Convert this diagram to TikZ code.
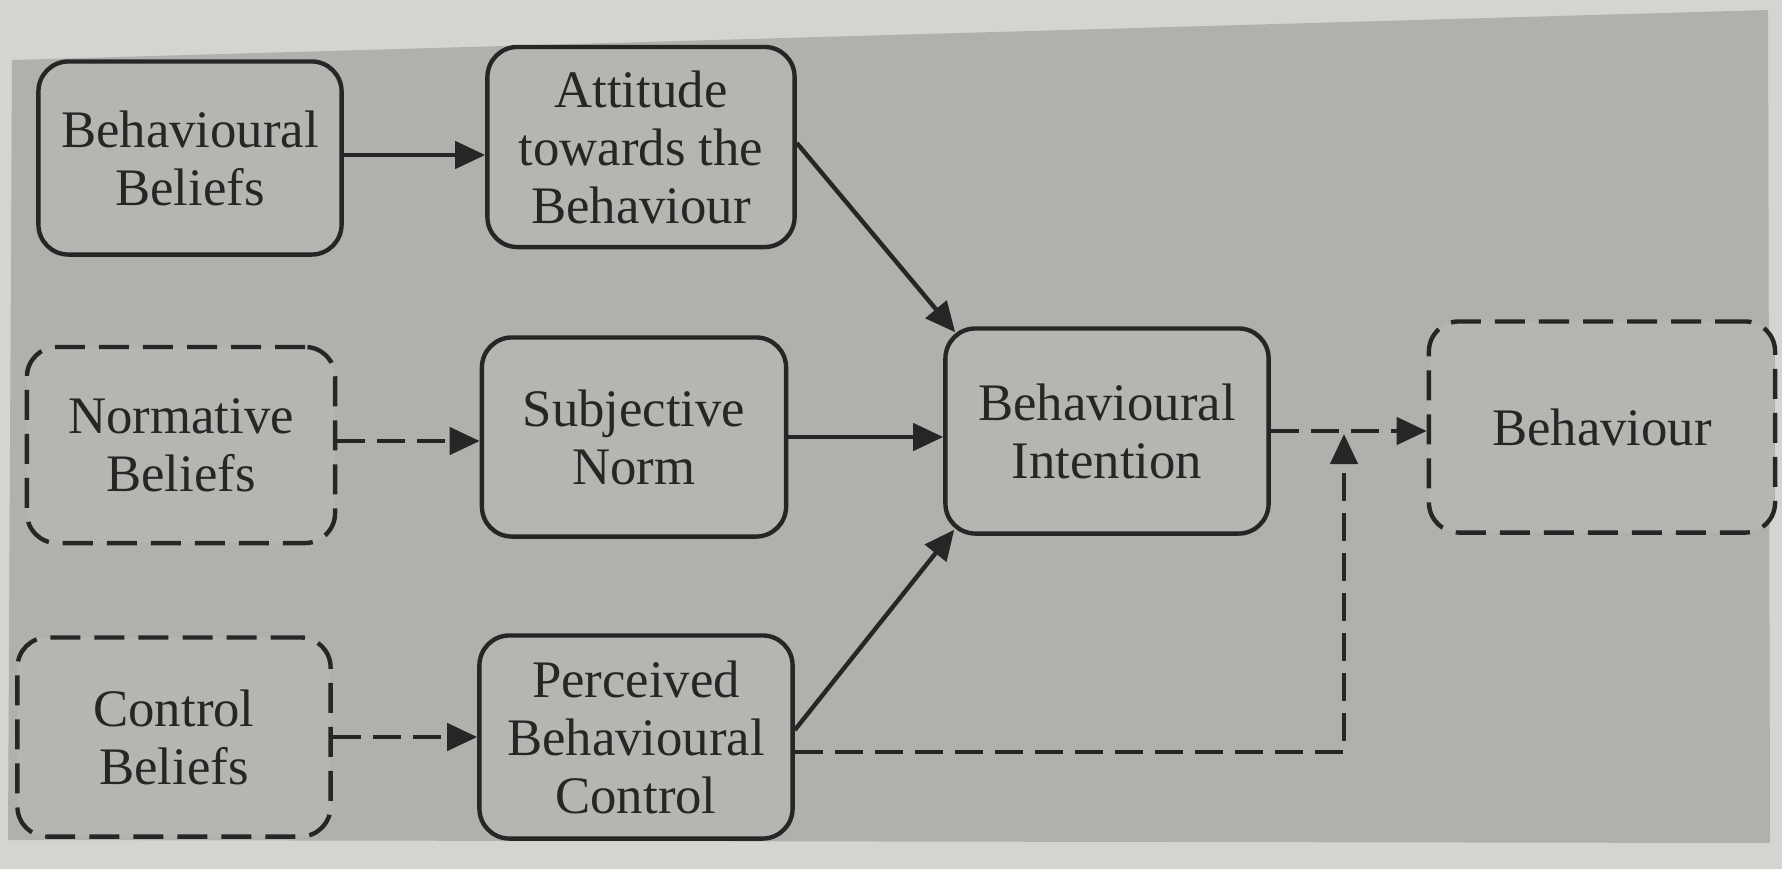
\documentclass[tikz,border=0pt]{standalone}
\usepackage{fontspec}
\setmainfont{Liberation Serif}
\usetikzlibrary{arrows.meta,calc}
\definecolor{paper}{RGB}{212,213,209}
\definecolor{bg}{RGB}{176,177,172}
\definecolor{boxfill}{RGB}{181,182,177}
\definecolor{ink}{RGB}{38,38,38}
\begin{document}
\begin{tikzpicture}[x=0.01cm,y=-0.01cm,
  box/.style={draw=ink, line width=1.25pt, rounded corners=0.3cm, fill=boxfill, align=center,
    font=\fontsize{15}{16.5}\selectfont, text=ink, inner sep=0pt},
  dbox/.style={box, dash pattern=on 0.3cm off 0.14cm},
  arr/.style={draw=ink, line width=1.25pt, -{Triangle[length=0.3cm,width=0.27cm]}},
  darr/.style={arr, dash pattern=on 0.28cm off 0.12cm}]
\useasboundingbox (0,0) rectangle (1782,869);
\fill[paper] (0,0) rectangle (1782,869);
\fill[bg] (12,60) -- (1768,10) -- (1770,843) -- (8,840) -- cycle;

\node[box, minimum width=3.03cm, minimum height=1.93cm] (bb) at (190,158) {Behavioural\\Beliefs};
\node[box, minimum width=3.07cm, minimum height=2.0cm] (att) at (641,147) {Attitude\\towards the\\Behaviour};
\node[dbox, minimum width=3.08cm, minimum height=1.96cm] (nb) at (181,445) {Normative\\Beliefs};
\node[box, minimum width=3.04cm, minimum height=1.99cm] (sn) at (634,437) {Subjective\\Norm};
\node[dbox, minimum width=3.13cm, minimum height=1.99cm] (cb) at (174,737) {Control\\Beliefs};
\node[box, minimum width=3.13cm, minimum height=2.03cm] (pbc) at (636,737) {Perceived\\Behavioural\\Control};
\node[box, minimum width=3.23cm, minimum height=2.05cm] (bi) at (1107,431) {Behavioural\\Intention};
\node[dbox, minimum width=3.46cm, minimum height=2.11cm] (beh) at (1602,427) {Behaviour};
\coordinate (j) at (1344,434);

\draw[arr] ([yshift=0.03cm]bb.east) -- ([yshift=0.03cm]bb.east -| att.west);
\draw[arr] ([yshift=0.04cm]att.east) -- ([xshift=0.12cm,yshift=-0.06cm]bi.north west);
\draw[darr] ([yshift=0.04cm]nb.east) -- ([yshift=0.04cm]nb.east -| sn.west);
\draw[arr] (sn.east) -- (sn.east -| bi.west);
\draw[darr] (cb.east) -- (cb.east -| pbc.west);
\draw[arr] ([yshift=0.07cm]pbc.east) -- ([xshift=0.11cm,yshift=0.06cm]bi.south west);
\draw[darr] ([yshift=-0.15cm]pbc.east) -| (j);
\draw[darr] (bi.east) -- (bi.east -| beh.west);
\end{tikzpicture}
\end{document}
